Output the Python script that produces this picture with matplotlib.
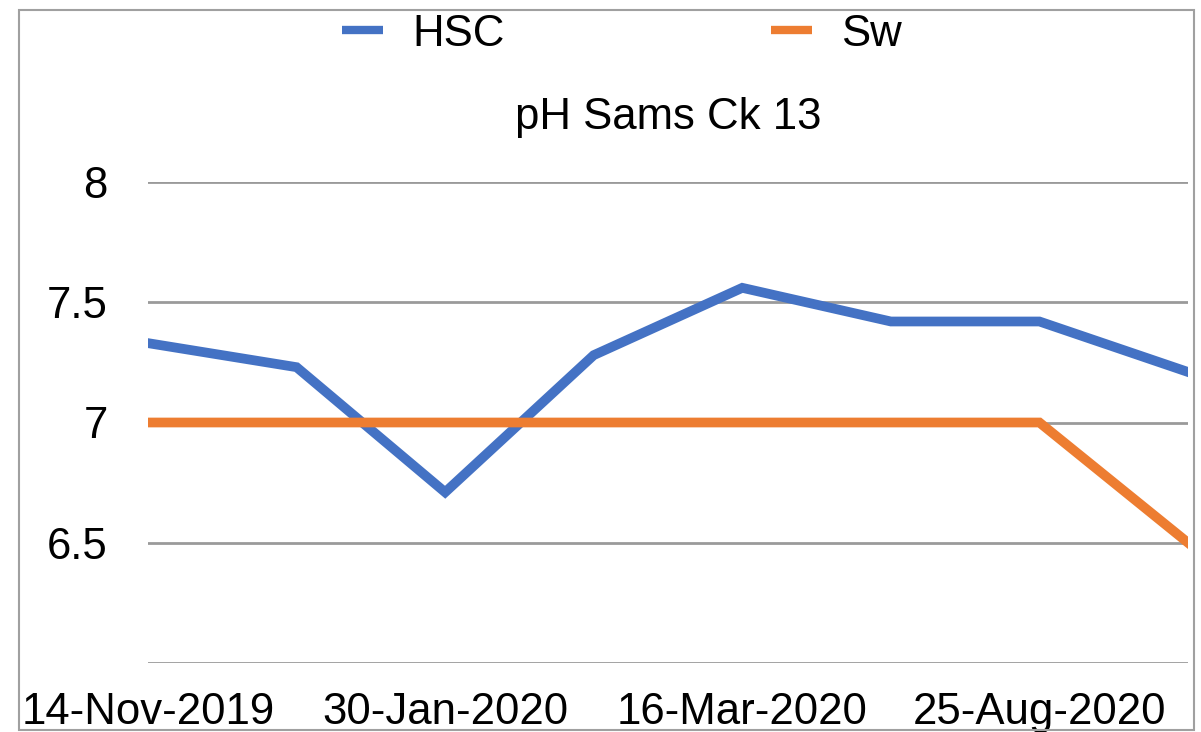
import matplotlib
matplotlib.use("Agg")
import matplotlib.pyplot as plt
from matplotlib.patches import Rectangle

plt.rcParams['font.family'] = ['Liberation Sans', 'DejaVu Sans']

# Daten
dates = ['14-Nov-2019', '', '30-Jan-2020', '', '16-Mar-2020', '', '25-Aug-2020', '']
hsc = [7.33, 7.23, 6.71, 7.28, 7.56, 7.42, 7.42, 7.21]
sw = [7.0, 7.0, 7.0, 7.0, 7.0, 7.0, 7.0, 6.5]
yticks = [6, 6.5, 7, 7.5, 8]
ylabels = ['', '6.5', '7', '7.5', '8']

FS = 31.5
W, H = 1201, 732
fig = plt.figure(figsize=(W / 100, H / 100), dpi=100)
ax = fig.add_axes([148 / W, (H - 663) / H, (1188 - 148) / W, (663 - 182) / H])

x = list(range(len(hsc)))
ax.plot(x, hsc, color='#4472C4', lw=7, label='HSC', solid_joinstyle='miter', zorder=3)
ax.plot(x, sw, color='#ED7D31', lw=7, label='Sw', solid_joinstyle='miter', zorder=3)

ax.set_xlim(0, len(hsc) - 1)
ax.set_ylim(6, 8)
ax.set_yticks(yticks)
ax.set_yticklabels(ylabels)
ax.set_xticks(x)
ax.set_xticklabels(dates)
ax.tick_params(axis='y', length=0, pad=29, labelsize=FS)
ax.tick_params(axis='x', length=0, pad=21, labelsize=FS)
ax.grid(axis='y', color='#9a9a9a', lw=2)
ax.set_axisbelow(True)
for s in ax.spines.values():
    s.set_visible(False)
for lbl in ax.get_xticklabels():
    lbl.set_clip_on(False)

fig.text(668 / W, 1 - 117 / H, 'pH Sams Ck 13', ha='center', va='center', fontsize=FS)

leg = fig.legend(loc='center', bbox_to_anchor=(622 / W, 1 - 34 / H), ncol=2, frameon=False,
                 fontsize=FS, handlelength=0.93, handletextpad=0.66, columnspacing=6.1,
                 borderaxespad=0, borderpad=0)
for h in leg.legend_handles:
    h.set_linewidth(6)
    h.set_solid_capstyle('butt')

fig.patches.append(Rectangle((19 / W, 1 - 730 / H), (1194 - 19) / W, (730 - 10) / H,
                             transform=fig.transFigure, fill=False, ec='#a0a0a0', lw=1.5))

fig.savefig('out.png', dpi=100)
